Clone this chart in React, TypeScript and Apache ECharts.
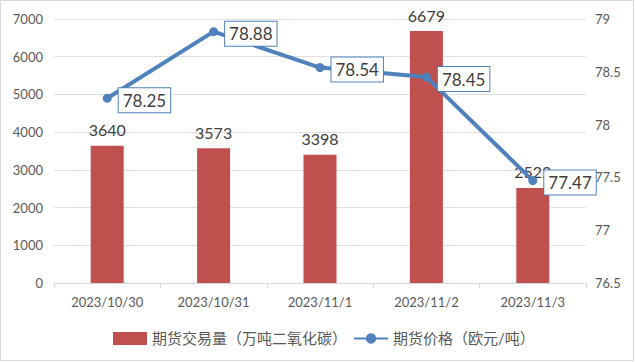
import React, { useEffect, useRef } from "react";
import * as echarts from "echarts";

const categories = ["2023/10/30", "2023/10/31", "2023/11/1", "2023/11/2", "2023/11/3"];
const volume = [3640, 3573, 3398, 6679, 2522];
const price = [78.25, 78.88, 78.54, 78.45, 77.47];
const volumeName = "期货交易量（万吨二氧化碳）";
const priceName = "期货价格（欧元/吨）";

export default function App() {
  const ref = useRef<HTMLDivElement>(null);
  useEffect(() => {
    const chart = echarts.init(ref.current!, undefined, { renderer: "svg" });
    const font = "Lato, 'Noto Sans CJK SC', 'DejaVu Sans', sans-serif";
    chart.setOption({
      animation: false,
      textStyle: { fontFamily: font },
      graphic: [
        {
          type: "rect",
          shape: { x: 0.5, y: 0.5, width: 633, height: 360 },
          style: { fill: "none", stroke: "#d9d9d9", lineWidth: 1 },
          silent: true,
        },
      ],
      grid: { left: 54, right: 49, top: 19, bottom: 79 },
      legend: {
        bottom: 11,
        left: 108,
        itemGap: 6,
        textStyle: { fontSize: 15, color: "#595959", fontFamily: font },
        data: [
          { name: volumeName, icon: "rect", itemStyle: { color: "#C0504D" } },
          { name: priceName },
        ],
        itemWidth: 34,
        itemHeight: 13,
      },
      xAxis: {
        type: "category",
        data: categories,
        axisLine: { lineStyle: { color: "#d9d9d9" } },
        axisTick: { show: true, lineStyle: { color: "#d9d9d9" }, length: 5 },
        axisLabel: { color: "#595959", fontSize: 13, margin: 12, fontFamily: font },
      },
      yAxis: [
        {
          type: "value",
          min: 0,
          max: 7000,
          interval: 1000,
          axisLine: { show: false },
          axisTick: { show: false },
          splitLine: { lineStyle: { color: "#e0e0e0" } },
          axisLabel: {
            color: "#595959",
            fontSize: 13,
            margin: 11,
            fontFamily: font,
            formatter: (v: number) => String(v),
          },
        },
        {
          type: "value",
          min: 76.5,
          max: 79,
          interval: 0.5,
          axisLine: { show: false },
          axisTick: { show: false },
          splitLine: { show: false },
          axisLabel: {
            color: "#595959",
            fontSize: 13,
            margin: 9,
            fontFamily: font,
            formatter: (v: number) => String(v),
          },
        },
      ],
      series: [
        {
          name: volumeName,
          type: "bar",
          data: volume,
          barWidth: 33,
          itemStyle: { color: "#C0504D" },
          label: {
            show: true,
            position: "top",
            distance: 8,
            color: "#404040",
            fontSize: 16,
            fontFamily: font,
          },
        },
        {
          name: priceName,
          type: "line",
          yAxisIndex: 1,
          data: price,
          symbol: "circle",
          symbolSize: 9,
          lineStyle: { color: "#4F81BD", width: 4 },
          itemStyle: { color: "#4F81BD" },
          label: {
            show: true,
            position: "right",
            distance: 7,
            offset: [0, 2],
            color: "#404040",
            fontSize: 17,
            fontFamily: font,
            backgroundColor: "#fff",
            borderColor: "#4F81BD",
            borderWidth: 1,
            padding: [4, 4, 3, 4],
          },
        },
      ],
    });
    return () => chart.dispose();
  }, []);
  return (
    <div
      ref={ref}
      style={{ position: "absolute", left: 0, top: 0, width: 635, height: 362, background: "#fff" }}
    />
  );
}
